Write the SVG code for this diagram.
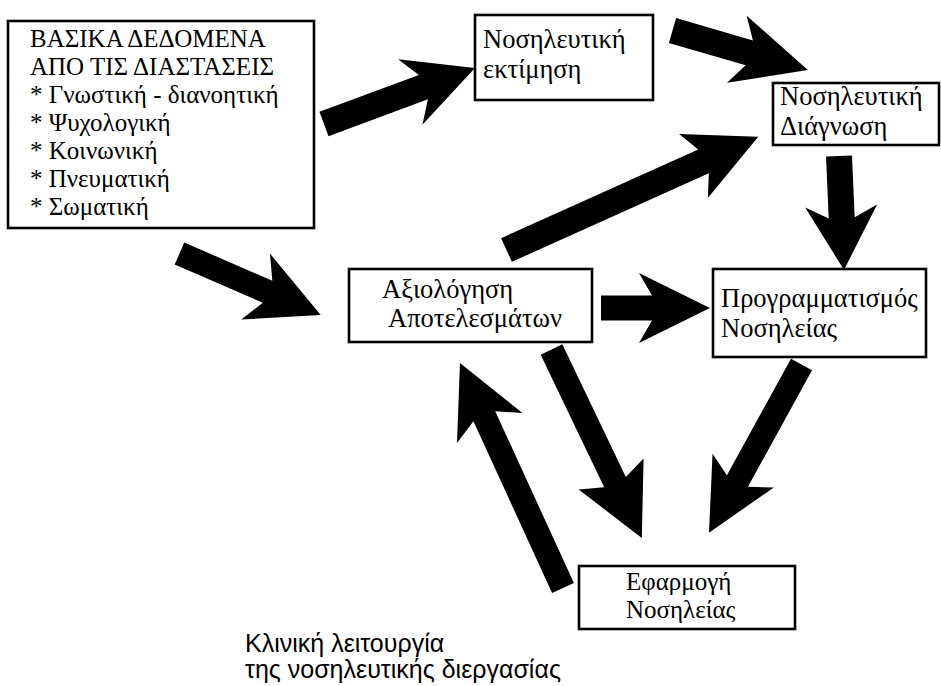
<svg xmlns="http://www.w3.org/2000/svg" width="941" height="686" viewBox="0 0 941 686">
<style>
.box{fill:#fff;stroke:#000;stroke-width:2.6}
.t{font-family:'Liberation Serif','Times New Roman',serif;font-size:26.5px;fill:#000}
.t1{font-family:'Liberation Serif','Times New Roman',serif;font-size:25px;fill:#000}
.t6{font-family:'Liberation Serif','Times New Roman',serif;font-size:25px;fill:#000}
.cap{font-family:'Liberation Sans',Arial,sans-serif;font-size:25px;fill:#000}
.arr{fill:#000}
</style>
<rect width="941" height="686" fill="#fff"/>
<g id="connectors">
<polygon class="arr" transform="translate(324,124) rotate(-20.35)" points="0,-13 106,-13 92,-35 161,0 92,35 106,13 0,13"/>
<polygon class="arr" transform="translate(672.5,30.5) rotate(16.25)" points="0,-13 80,-13 67,-35 141,0 67,35 80,13 0,13"/>
<polygon class="arr" transform="translate(506.5,250) rotate(-24.2)" points="0,-13 216,-13 205,-35 276,0 205,35 216,13 0,13"/>
<polygon class="arr" transform="translate(839,156) rotate(87.5)" points="0,-13 62,-13 50,-36 114,0 50,36 62,13 0,13"/>
<polygon class="arr" transform="translate(179.5,253.5) rotate(23.5)" points="0,-12 96,-12 83,-36 154,0 83,36 96,12 0,12"/>
<polygon class="arr" transform="translate(601,308)" points="0,-12.5 51,-12.5 38,-35 109,0 38,35 51,12.5 0,12.5"/>
<polygon class="arr" transform="translate(551.5,349.5) rotate(64.4)" points="0,-12 147,-12 138,-36 209,0 138,36 147,12 0,12"/>
<polygon class="arr" transform="translate(801.5,364.5) rotate(118.8)" points="0,-12 133,-12 121,-35 192,0 121,35 133,12 0,12"/>
<polygon class="arr" transform="translate(563,588) rotate(-114.6)" points="0,-12 189,-12 176,-36 247.5,0 176,36 189,12 0,12"/>
</g>
<g id="node-basic-data">
<rect class="box" x="8" y="21" width="306" height="207" stroke-width="3"/>
<text class="t1" x="30" y="47">ΒΑΣΙΚΑ ΔΕΔΟΜΕΝΑ</text>
<text class="t1" x="30" y="75">ΑΠΟ ΤΙΣ ΔΙΑΣΤΑΣΕΙΣ</text>
<text class="t1" x="30" y="103">* Γνωστική - διανοητική</text>
<text class="t1" x="30" y="131">* Ψυχολογική</text>
<text class="t1" x="30" y="159">* Κοινωνική</text>
<text class="t1" x="30" y="187">* Πνευματική</text>
<text class="t1" x="30" y="215">* Σωματική</text>
</g>
<g id="node-assessment">
<rect class="box" x="475" y="15" width="178" height="85"/>
<text class="t" x="483" y="48">Νοσηλευτική</text>
<text class="t" x="483" y="78">εκτίμηση</text>
</g>
<g id="node-diagnosis">
<rect class="box" x="773" y="83" width="166" height="62"/>
<text class="t" x="780" y="105">Νοσηλευτική</text>
<text class="t" x="780" y="135">Διάγνωση</text>
</g>
<g id="node-evaluation">
<rect class="box" x="349" y="269" width="243" height="73"/>
<text class="t" x="382" y="298">Αξιολόγηση</text>
<text class="t" x="388" y="327">Αποτελεσμάτων</text>
</g>
<g id="node-planning">
<rect class="box" x="713" y="269" width="213" height="88"/>
<text class="t" x="721" y="307">Προγραμματισμός</text>
<text class="t" x="721" y="337">Νοσηλείας</text>
</g>
<g id="node-implementation">
<rect class="box" x="579" y="566" width="216" height="63"/>
<text class="t6" x="626" y="590">Εφαρμογή</text>
<text class="t6" x="626" y="618">Νοσηλείας</text>
</g>
<g id="caption">
<text class="cap" x="245" y="652">Κλινική λειτουργία</text>
<text class="cap" x="245" y="678">της νοσηλευτικής διεργασίας</text>
</g>
</svg>
